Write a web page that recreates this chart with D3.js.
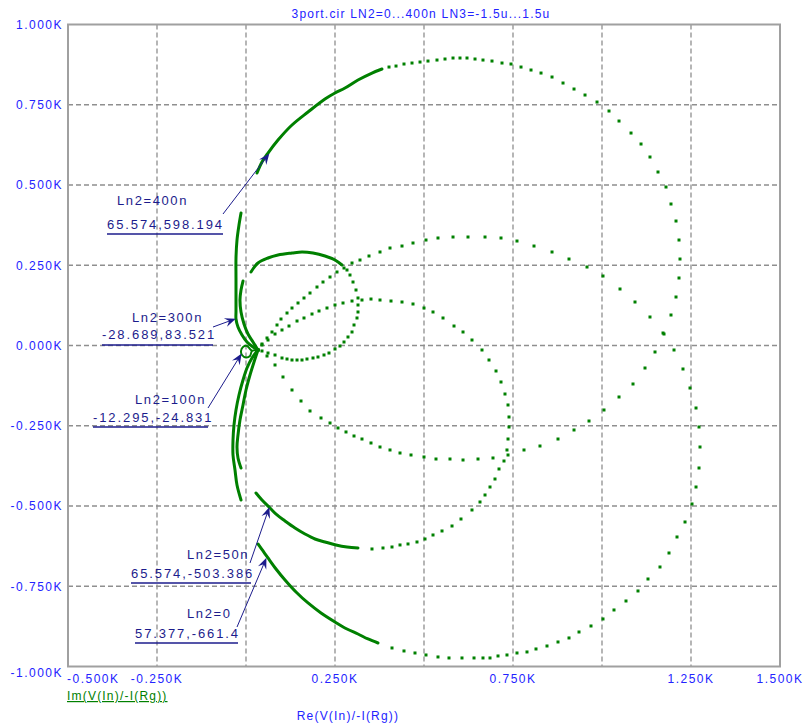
<!DOCTYPE html>
<html><head><meta charset="utf-8">
<script src="https://cdn.jsdelivr.net/npm/d3@7/dist/d3.min.js"></script>
<style>body{margin:0;background:#fff} svg{display:block}</style>
</head><body><svg id="c" width="804" height="724"></svg>
<script>
// ---------- axes / labels ----------
const titleText = "3port.cir LN2=0...400n LN3=-1.5u...1.5u";
const xLabelText = "Re(V(In)/-I(Rg))";
const yLabelText = "Im(V(In)/-I(Rg))";
const xTicks = [-500,-250,0,250,500,750,1000,1250,1500];
const xTickLabels = ["-0.500K","-0.250K","","0.250K","","0.750K","","1.250K","1.500K"];
const yTicks = [1000,750,500,250,0,-250,-500,-750,-1000];
const yTickLabels = ["1.000K","0.750K","0.500K","0.250K","0.000K","-0.250K","-0.500K","-0.750K","-1.000K"];

// ---------- series (Re, Im) in ohms ----------
const ln2_0_solid = [[33.7,-618.3],[47.8,-640.1],[61.8,-661.9],[84.3,-696.2],[109.6,-730.5],[140.5,-767.9],[174.2,-802.1],[210.7,-833.3],[250.0,-861.3],[283.7,-883.1],[314.6,-898.7],[342.7,-914.3],[370.8,-926.8]];
const ln2_0_dots = [[410.1,-942.3],[443.8,-951.6],[474.7,-957.9],[505.6,-964.1],[539.3,-970.3],[570.2,-973.4],[606.7,-973.4],[640.5,-973.4],[665.7,-973.4],[685.4,-973.4],[707.9,-967.2],[733.1,-964.1],[761.2,-957.9],[789.3,-954.7],[814.6,-945.4],[845.5,-936.1],[876.4,-923.6],[907.3,-911.1],[935.4,-892.5],[969.1,-873.8],[1002.8,-851.9],[1033.7,-823.9],[1067.4,-795.9],[1101.1,-764.7],[1129.2,-727.4],[1162.9,-690.0],[1188.2,-646.4],[1210.7,-596.5],[1233.2,-549.8],[1252.8,-493.7],[1264.1,-440.8],[1272.5,-381.6],[1275.3,-316.2],[1272.5,-253.9],[1264.1,-194.7],[1247.2,-132.4],[1227.5,-73.2],[1202.3,-14.0],[1171.4,38.9],[1134.8,88.8],[1092.7,135.5],[1050.6,176.0],[1002.8,216.5],[957.9,244.5],[907.3,269.4],[859.6,291.3],[809.0,309.9],[761.2,325.5],[716.3,334.9],[671.4,338.0],[623.6,338.0],[581.5,338.0],[539.3,334.9],[505.6,328.6],[469.1,319.3],[438.2,309.9],[404.5,303.7],[376.4,291.3],[345.5,278.8],[320.2,266.3],[297.8,257.0],[275.3,241.4],[255.6,229.0],[236.0,213.4],[216.3,197.8],[199.4,182.2],[179.8,163.5],[162.9,148.0],[146.1,132.4],[129.2,116.8],[115.2,101.2],[98.3,82.5],[87.1,63.9],[73.0,42.1],[59.0,23.4],[44.9,4.7],[33.7,-14.0]];

const ln2_50n_solid = [[28.1,-459.5],[44.9,-481.3],[67.4,-506.2],[87.1,-528.0],[109.6,-546.7],[137.6,-568.5],[165.7,-587.2],[193.8,-602.8],[221.9,-612.1],[252.8,-621.4],[283.7,-627.7],[314.6,-630.8]];
const ln2_50n_dots = [[353.9,-633.9],[384.8,-630.8],[410.1,-627.7],[432.6,-621.4],[455.1,-618.3],[480.3,-612.1],[502.8,-602.8],[525.3,-590.3],[550.6,-577.8],[578.7,-562.3],[603.9,-540.5],[634.8,-512.4],[657.3,-487.5],[671.4,-465.7],[685.4,-440.8],[699.4,-415.9],[710.7,-384.7],[724.7,-359.8],[733.1,-325.5],[736.0,-291.3],[738.8,-253.9],[738.8,-222.7],[736.0,-185.3],[727.5,-151.1],[716.3,-113.7],[702.3,-79.4],[682.6,-45.2],[662.9,-14.0],[634.8,17.1],[609.6,42.1],[584.3,60.7],[553.4,85.7],[525.3,104.4],[500.0,116.8],[469.1,129.3],[438.2,135.5],[407.3,138.6],[376.4,141.7],[351.1,144.8],[325.8,141.7],[297.8,138.6],[272.5,132.4],[250.0,126.2],[227.5,116.8],[205.1,107.5],[185.4,98.1],[162.9,85.7],[143.3,76.3],[120.8,60.7],[101.1,48.3],[81.5,35.8],[61.8,17.1],[44.9,1.6],[33.7,-14.0]];

const ln2_400n_solid = [[30.9,537.3],[44.9,571.6],[61.8,599.6],[89.9,640.1],[129.2,686.9],[174.2,727.4],[221.9,767.8],[250.0,786.5],[278.1,802.1],[314.6,827.0],[353.9,848.8],[382.0,861.3]];
const ln2_400n_dots = [[401.7,867.5],[421.4,870.6],[443.8,876.9],[466.3,880.0],[488.8,883.1],[511.2,886.2],[536.5,889.3],[559.0,892.5],[581.5,895.6],[601.1,895.6],[620.8,895.6],[643.3,892.5],[665.7,889.3],[691.0,886.2],[719.1,880.0],[744.4,876.9],[772.5,867.5],[800.6,858.2],[828.7,848.8],[859.6,836.4],[890.5,817.7],[921.4,799.0],[952.3,780.3],[986.0,758.5],[1019.7,730.5],[1047.8,699.3],[1081.5,661.9],[1109.6,627.7],[1134.8,587.2],[1157.3,540.5],[1179.8,493.7],[1193.8,440.8],[1207.9,387.8],[1216.3,328.6],[1219.1,269.4],[1216.3,210.3],[1207.9,151.1],[1193.8,95.0],[1174.2,35.8],[1148.9,-20.2],[1120.8,-70.1],[1087.1,-119.9],[1047.8,-160.4],[1005.6,-200.9],[963.5,-235.2],[921.4,-263.2],[876.4,-291.3],[825.8,-313.1],[780.9,-325.5],[736.0,-341.1],[693.8,-350.4],[651.7,-353.6],[609.6,-356.7],[573.0,-353.6],[533.7,-353.6],[500.0,-347.3],[463.5,-341.1],[432.6,-334.9],[404.5,-325.5],[376.4,-316.2],[351.1,-303.7],[325.8,-291.3],[303.4,-281.9],[280.9,-269.4],[258.4,-257.0],[236.0,-241.4],[210.7,-225.8],[179.8,-204.0],[154.5,-172.9],[129.2,-138.6],[103.9,-98.1],[81.5,-60.7],[59.0,-32.7],[33.7,-14.0]];

const ln2_200n_solid = [[14.0,229.0],[33.7,257.0],[61.8,272.6],[89.9,281.9],[129.2,288.1],[157.3,291.3],[188.2,288.1],[221.9,278.8],[250.0,266.3],[269.7,250.8]];
const ln2_200n_dots = [[283.7,235.2],[292.1,219.6],[300.6,197.8],[309.0,172.9],[314.6,148.0],[314.6,126.2],[314.6,104.4],[311.8,85.7],[303.4,63.9],[297.8,42.1],[286.5,26.5],[275.3,10.9],[264.0,-1.6],[250.0,-10.9],[233.1,-23.4],[219.1,-29.6],[202.2,-35.8],[188.2,-38.9],[171.3,-42.1],[157.3,-45.2],[143.3,-45.2],[129.2,-45.2],[115.2,-42.1],[101.1,-38.9],[81.5,-29.6],[61.8,-23.4],[44.9,-17.1],[33.7,-14.0]];

const ln2_300n_solid = [[-14.0,412.7],[-19.7,375.4],[-25.3,328.6],[-28.1,272.6],[-28.1,210.3],[-28.1,148.0],[-28.1,104.4],[-28.1,82.5],[-22.5,57.6],[-11.2,32.7],[2.8,10.9],[19.7,-4.7],[33.7,-14.0]];
const ln2_350n_solid = [[-8.4,200.9],[-14.0,172.9],[-16.9,141.7],[-14.0,104.4],[-5.6,67.0],[5.6,35.8],[19.7,10.9],[33.7,-14.0]];
const ln2_100n_solid = [[-14.0,-481.3],[-25.3,-434.5],[-30.9,-387.8],[-36.5,-341.1],[-36.5,-294.4],[-33.7,-247.6],[-28.1,-200.9],[-19.7,-154.2],[-8.4,-107.5],[2.8,-70.1],[16.9,-38.9],[33.7,-14.0]];
const ln2_100n_loop = [[33.7,-14.0],[16.9,-17.1],[11.2,-32.7],[0,-37.4],[-11.2,-29.6],[-14.0,-17.1],[-8.4,-4.7],[2.8,-1.6],[11.2,-10.9],[16.9,-17.1]];
const ln2_150n_solid = [[-14.0,-381.6],[-22.5,-350.4],[-25.3,-316.2],[-22.5,-278.8],[-16.9,-232.1],[-8.4,-185.3],[0,-138.6],[11.2,-91.9],[22.5,-51.4],[33.7,-14.0]];

// ---------- annotations: label, value, tip (data coords) ----------
const annoLabels = ["Ln2=400n","Ln2=300n","Ln2=100n","Ln2=50n","Ln2=0"];
const annoValues = ["65.574,598.194","-28.689,83.521","-12.295,-24.831","65.574,-503.386","57.377,-661.4"];
const annoTips = [[65.574,598.194],[-28.689,83.521],[-12.295,-24.831],[65.574,-503.386],[57.377,-661.4]];

// layout for annotations (pixels)
const annoLayout = [
  {lx:117, ly:205, vx:107, vy:229, u0:107, u1:223, uy:234, tx:223, ty:214},
  {lx:132, ly:322, vx:102, vy:339, u0:102, u1:213, uy:345, tx:213, ty:327},
  {lx:135, ly:404, vx:93,  vy:422, u0:93,  u1:208, uy:427, tx:208, ty:408},
  {lx:187, ly:559, vx:131, vy:578, u0:131, u1:251, uy:583, tx:250, ty:563},
  {lx:187, ly:618, vx:135, vy:638, u0:135, u1:238, uy:643, tx:237, ty:627}
];

const svg = d3.select("#c");
const L=68, T=24.5, R=780, B=666.5;
const x = d3.scaleLinear().domain([-500,1500]).range([L,R]);
const y = d3.scaleLinear().domain([-1000,1000]).range([B,T]);
const GREEN = "#008000", NAVY = "#1c1c8c", BLUE = "#2323ff", GRID="#8f8f8f";
const FONT = "'Liberation Sans', Arial, sans-serif";

// grid
const g = svg.append("g");
g.selectAll("line.vx").data(xTicks.slice(1,-1)).enter().append("line")
  .attr("x1",d=>x(d)).attr("x2",d=>x(d)).attr("y1",T).attr("y2",B)
  .attr("stroke",GRID).attr("stroke-width",1.3).attr("stroke-dasharray","5,3");
g.selectAll("line.hy").data(yTicks.slice(1,-1)).enter().append("line")
  .attr("x1",L).attr("x2",R).attr("y1",d=>y(d)).attr("y2",d=>y(d))
  .attr("stroke",GRID).attr("stroke-width",1.3).attr("stroke-dasharray","5,3");
// frame
svg.append("rect").attr("x",L).attr("y",T).attr("width",R-L).attr("height",B-T)
  .attr("fill","none").attr("stroke","#a0a0a0").attr("stroke-width",2);

// tick labels
svg.append("g").selectAll("text").data(yTicks).enter().append("text")
  .attr("x",63).attr("y",(d,i)=> i===yTicks.length-1 ? y(d)+6 : y(d))
  .attr("dy","0.36em").attr("text-anchor","end")
  .attr("font-family",FONT).attr("font-size",12).attr("letter-spacing",1.5)
  .attr("fill",BLUE).text((d,i)=>yTickLabels[i]);
svg.append("g").selectAll("text").data(xTicks).enter().append("text")
  .attr("x",(d,i)=> i===0 ? x(d)-1 : x(d))
  .attr("y",683).attr("text-anchor",(d,i)=> i===0 ? "start" : "middle")
  .attr("font-family",FONT).attr("font-size",12).attr("letter-spacing",1.5)
  .attr("fill",BLUE).text((d,i)=>xTickLabels[i]);

// title / axis labels
svg.append("text").attr("x",421).attr("y",18).attr("text-anchor","middle")
  .attr("font-family",FONT).attr("font-size",12).attr("letter-spacing",1.2)
  .attr("fill",BLUE).text(titleText);
svg.append("text").attr("x",348).attr("y",720).attr("text-anchor","middle")
  .attr("font-family",FONT).attr("font-size",12).attr("letter-spacing",1.2)
  .attr("fill",BLUE).text(xLabelText);
svg.append("text").attr("x",67).attr("y",700).attr("text-anchor","start")
  .attr("font-family",FONT).attr("font-size",12).attr("letter-spacing",1.2)
  .attr("fill",GREEN).attr("text-decoration","underline").text(yLabelText);

// curves
const line = d3.line().x(d=>x(d[0])).y(d=>y(d[1])).curve(d3.curveCatmullRom);
const curves = svg.append("g");
const solids = [ln2_0_solid, ln2_50n_solid, ln2_400n_solid, ln2_200n_solid, ln2_300n_solid, ln2_350n_solid, ln2_100n_solid, ln2_150n_solid];
solids.forEach(s => curves.append("path").attr("d",line(s)).attr("fill","none")
  .attr("stroke",GREEN).attr("stroke-width",3).attr("stroke-linecap","round"));
curves.append("path").attr("d",line(ln2_100n_loop)).attr("fill","none")
  .attr("stroke",GREEN).attr("stroke-width",2);
const dotSets = [ln2_0_dots, ln2_50n_dots, ln2_400n_dots, ln2_200n_dots];
dotSets.forEach(s => curves.append("g").selectAll("rect").data(s).enter().append("rect")
  .attr("x",d=>x(d[0])-1.5).attr("y",d=>y(d[1])-1.5).attr("width",3).attr("height",3)
  .attr("fill",GREEN));

// annotations
const ann = svg.append("g");
annoLabels.forEach((lab,i) => {
  const a = annoLayout[i];
  const tip = [x(annoTips[i][0]), y(annoTips[i][1])];
  ann.append("text").attr("x",a.lx).attr("y",a.ly).attr("font-family",FONT)
    .attr("font-size",13).attr("letter-spacing",1.6).attr("fill",NAVY).text(lab);
  ann.append("text").attr("x",a.vx).attr("y",a.vy).attr("font-family",FONT)
    .attr("font-size",13).attr("letter-spacing",1.9).attr("fill",NAVY).text(annoValues[i]);
  ann.append("line").attr("x1",a.u0).attr("x2",a.u1).attr("y1",a.uy).attr("y2",a.uy)
    .attr("stroke",NAVY).attr("stroke-width",1.5);
  const dx = tip[0]-a.tx, dy = tip[1]-a.ty, len = Math.hypot(dx,dy);
  const ux = dx/len, uy = dy/len;
  ann.append("line").attr("x1",a.tx).attr("y1",a.ty)
    .attr("x2",tip[0]-ux*6).attr("y2",tip[1]-uy*6)
    .attr("stroke",NAVY).attr("stroke-width",1);
  const hl = 11, hw = 4.5;
  const bx = tip[0]-ux*hl, by = tip[1]-uy*hl;
  ann.append("path").attr("d",`M${tip[0]},${tip[1]}L${bx-uy*hw},${by+ux*hw}L${tip[0]-ux*7},${tip[1]-uy*7}L${bx+uy*hw},${by-ux*hw}Z`)
    .attr("fill",NAVY);
});
</script></body></html>
